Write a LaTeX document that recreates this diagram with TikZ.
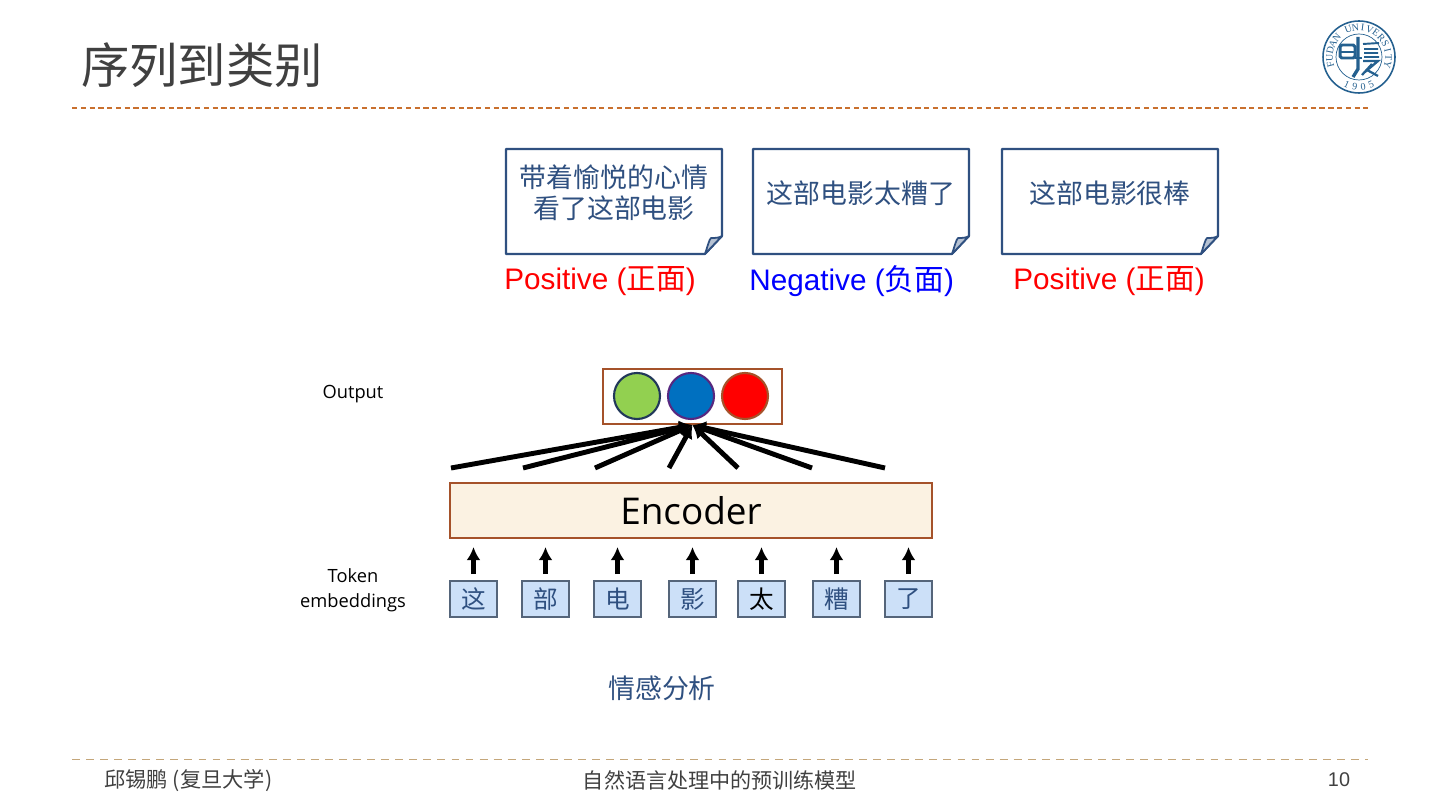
\documentclass[tikz,border=0pt]{standalone}
\usepackage{fontspec}
\usepackage{xcolor}
\usetikzlibrary{arrows.meta}
\setmainfont{Liberation Sans}
\newfontfamily\cjk{Noto Sans CJK SC}
\newfontfamily\opensans{Open Sans}
\newfontfamily\sealfont{Liberation Serif}
\definecolor{notecol}{HTML}{2F5080}
\definecolor{titlecol}{HTML}{404040}
\definecolor{rulecol}{HTML}{C9702E}
\definecolor{footcol}{HTML}{C4A67A}
\definecolor{boxcol}{HTML}{A5522A}
\definecolor{enccol}{HTML}{FBF2E2}
\definecolor{tokcol}{HTML}{CCE0F8}
\definecolor{tokline}{HTML}{55657A}
\definecolor{sealcol}{HTML}{24608F}
\tikzset{
	notepath/.style={draw=notecol, line width=1.2pt, fill=white, line join=round},
	notetext/.style={font=\cjk\fontsize{15.3}{17.5}\selectfont, text=notecol, align=center},
	senttext/.style={font=\fontsize{16.9}{18}\selectfont, anchor=west, inner sep=0pt},
	tokbox/.style={draw=tokline, line width=1pt, fill=tokcol, minimum width=47\unitpx, minimum height=36\unitpx, inner sep=0pt, font=\cjk\fontsize{14}{16}\selectfont, text=notecol},
	probe/.style={circle, line width=1.2pt, minimum size=46\unitpx, inner sep=0pt},
	sidetext/.style={font=\opensans\fontsize{10.4}{14.2}\selectfont, align=center},
	sealtext/.style={font=\sealfont\fontsize{5.7}{6}\selectfont, text=sealcol, inner sep=0pt},
	uparrow/.style={->, line width=2.5pt, shorten <=6\unitpx, shorten >=8\unitpx},
	fanarrow/.style={->, line width=2.8pt}
}
\newcommand{\unitpx}{*0.02cm}
\begin{document}
\begin{tikzpicture}[x=0.02cm, y=-0.02cm, >={Latex[length=7.5pt,width=8pt]}, line cap=butt]
	\useasboundingbox (0,0) rectangle (1440,810);

	% header and footer
	\node[font=\cjk\fontsize{27.5}{30}\selectfont, text=titlecol, anchor=west, inner sep=0pt] (title) at (81,65) {序列到类别};
	\draw[rulecol, line width=0.7pt, dash pattern=on 3pt off 2pt] (72,108) -- (1368,108);
	\draw[footcol, line width=0.5pt, dash pattern=on 4.5pt off 3.5pt] (72,759) -- (1368,759);
	\node[font=\cjk\fontsize{12.1}{14}\selectfont, text=titlecol, anchor=west, inner sep=0pt] (author) at (104,781) {邱锡鹏 (复旦大学)};
	\node[font=\cjk\fontsize{12}{14}\selectfont, text=titlecol, inner sep=0pt] (talk) at (720,780) {自然语言处理中的预训练模型};
	\node[font=\fontsize{11.3}{14}\selectfont, text=titlecol, inner sep=0pt] (pagenum) at (1339,780) {10};

	% seal
	\begin{scope}[shift={(1359,57)}, y=0.02cm, sealcol]
		\draw[line width=0.9pt] (0,0) circle (36);
		\draw[line width=0.4pt] (0,0) circle (23);
		\foreach \sealch [count=\sealn] in {F,U,D,A,N,{},U,N,I,V,E,R,S,I,T,Y} {
			\pgfmathsetmacro{\sealang}{195-14*(\sealn-1)}
			\node[sealtext, rotate=\sealang-90] (seal\sealn) at (\sealang:29.5) {\sealch};
		}
		\foreach \sealch [count=\sealn] in {1,9,0,5} {
			\pgfmathsetmacro{\sealang}{246+16*(\sealn-1)}
			\node[sealtext, rotate=\sealang-270] (year\sealn) at (\sealang:30) {\sealch};
		}
		\draw[line width=1.7pt, rounded corners=1pt] (-19,-1) rectangle (-4,12);
		\draw[line width=1.5pt] (-19,5) -- (-4,5) (-4,-1) -- (3,-1);
		\draw[line width=1.9pt] (-1,20) -- (-1,-12) -- (-6,-20);
		\draw[line width=1.1pt] (4,13) -- (20,14) (5,8) -- (19,8) (5,4) -- (19,4) (5,0) -- (20,0);
		\draw[line width=1.3pt] (4,-4) -- (19,-4) -- (6,-15) (13,-7) -- (3,-18) (8,-13) -- (19,-19);
	\end{scope}

	% review cards
	\foreach \notex/\notename/\notey/\notelabel in {506/noteone/174/{带着愉悦的心情\\看了这部电影}, 753/notetwo/190/{这部电影太糟了}, 1002/notethree/190/{这部电影很棒}} {
		\draw[notepath] (\notex,149) -- ++(216,0) -- ++(0,87) -- ++(-17,18) -- ++(-199,0) -- cycle;
		\draw[notecol, line width=1pt, fill=notecol!35, line join=round] (\notex+199,254) .. controls (\notex+202,245) and (\notex+203,240) .. (\notex+205,238) .. controls (\notex+209,238) and (\notex+213,238) .. (\notex+216,236) -- cycle;
		\node[notetext, anchor=north] (\notename) at (\notex+108,\notey-15) {\notelabel};
	}
	\node[senttext, text=red] (sentone) at (504,281.5) {Positive ({\cjk 正面})};
	\node[senttext, text=blue] (senttwo) at (749,281) {Negative ({\cjk 负面})};
	\node[senttext, text=red] (sentthree) at (1013,281.5) {Positive ({\cjk 正面})};

	% model
	\node[sidetext] (outlabel) at (353,394) {Output};
	\node[sidetext] (toklabel) at (353,590) {Token\\embeddings};
	\node[draw=boxcol, line width=1.2pt, minimum width=179\unitpx, minimum height=55\unitpx, inner sep=0pt] (outbox) at (692.5,396.5) {};
	\node[probe, draw=black!30!notecol, fill={rgb,255:red,146;green,208;blue,80}] (probea) at (637,396) {};
	\node[probe, draw=violet!50!notecol, fill={rgb,255:red,0;green,112;blue,192}] (probeb) at (691,396) {};
	\node[probe, draw=boxcol, fill=red] (probec) at (745,396) {};
	\node[draw=boxcol, line width=1.2pt, fill=enccol, minimum width=482\unitpx, minimum height=55\unitpx, inner sep=0pt, font=\opensans\fontsize{21}{24}\selectfont] (encoder) at (691,510.5) {Encoder};

	\foreach \tokx/\tokname/\tokchar in {473.5/toka/这, 545.5/tokb/部, 617.5/tokc/电, 692.5/tokd/影, 761.5/toke/\textcolor{black}{太}, 836.5/tokf/糟, 908.5/tokg/了} {
		\node[tokbox] (\tokname) at (\tokx,599) {\tokchar};
		\draw[uparrow] (\tokname.north) -- (\tokname.north |- encoder.south);
	}
	\coordinate (fana) at (451,468);
	\coordinate (fanb) at (523,468);
	\coordinate (fanc) at (595,468);
	\coordinate (fand) at (669,468);
	\coordinate (fane) at (738,468);
	\coordinate (fanf) at (812,468);
	\coordinate (fang) at (885,468);
	\foreach \fanname in {fana,fanb,fanc,fand,fane,fanf,fang}
		\draw[fanarrow] (\fanname) -- (outbox.south);

	\node[font=\cjk\fontsize{15.3}{18}\selectfont, text=notecol, inner sep=0pt] (tasklabel) at (662,688) {情感分析};
\end{tikzpicture}
\end{document}
